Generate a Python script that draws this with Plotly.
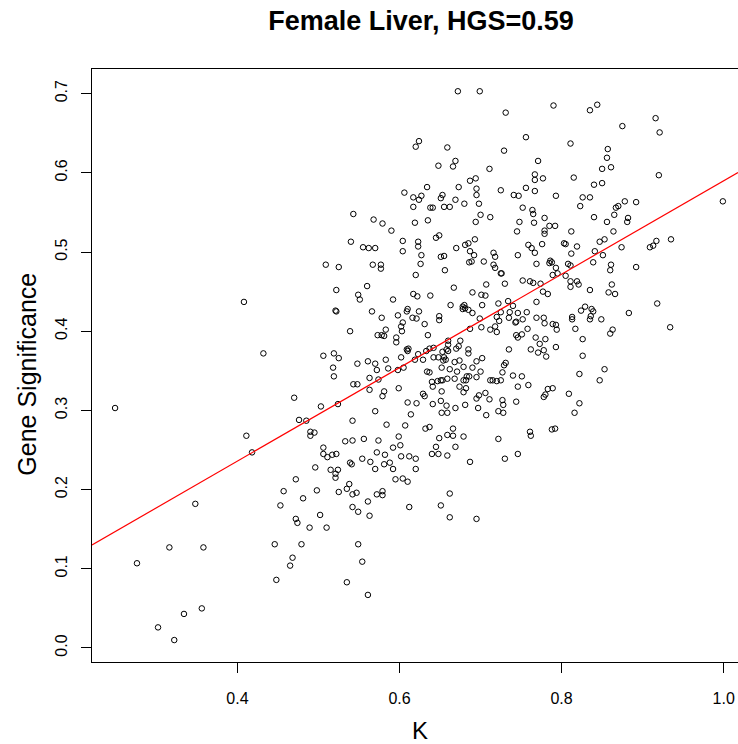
import plotly.graph_objects as go

title_text = "Female Liver, HGS=0.59"
x_label = "K"
y_label = "Gene Significance"
x_tick_values = [0.4, 0.6, 0.8, 1.0]
x_tick_labels = ["0.4", "0.6", "0.8", "1.0"]
y_tick_values = [0.0, 0.1, 0.2, 0.3, 0.4, 0.5, 0.6, 0.7]
y_tick_labels = ["0.0", "0.1", "0.2", "0.3", "0.4", "0.5", "0.6", "0.7"]
hgs_slope = 0.59

# (K, Gene Significance) pairs, grouped by region
pts_top_mid = [
    (0.672, 0.703), (0.699, 0.703), (0.790, 0.685), (0.731, 0.676), (0.624, 0.640), (0.620, 0.633),
    (0.659, 0.632), (0.756, 0.645), (0.729, 0.628), (0.771, 0.615), (0.669, 0.615), (0.648, 0.609),
    (0.666, 0.608), (0.711, 0.605), (0.767, 0.598), (0.767, 0.591), (0.777, 0.593), (0.694, 0.593),
    (0.687, 0.590), (0.634, 0.582), (0.673, 0.582), (0.695, 0.580), (0.756, 0.581), (0.725, 0.578),
    (0.767, 0.577), (0.606, 0.575), (0.695, 0.572), (0.653, 0.572), (0.651, 0.568), (0.627, 0.571),
    (0.617, 0.569), (0.624, 0.566), (0.741, 0.572), (0.747, 0.571), (0.793, 0.571), (0.669, 0.566),
    (0.680, 0.561), (0.698, 0.561), (0.617, 0.557), (0.638, 0.556), (0.641, 0.556), (0.655, 0.557),
    (0.662, 0.557), (0.752, 0.556), (0.764, 0.553), (0.765, 0.548), (0.700, 0.547), (0.712, 0.544),
    (0.779, 0.543), (0.635, 0.540), (0.694, 0.538), (0.748, 0.538), (0.766, 0.537), (0.619, 0.537),
    (0.579, 0.536), (0.785, 0.533), (0.792, 0.533), (0.590, 0.527), (0.745, 0.526), (0.779, 0.527),
    (0.779, 0.523), (0.649, 0.521), (0.645, 0.518), (0.604, 0.514), (0.623, 0.513), (0.693, 0.516),
    (0.685, 0.511), (0.681, 0.509), (0.776, 0.510), (0.759, 0.509), (0.670, 0.505), (0.623, 0.507),
    (0.763, 0.505),
]

pts_top_right = [
    (0.844, 0.686), (0.835, 0.679), (0.916, 0.669), (0.875, 0.659), (0.921, 0.651), (0.811, 0.637),
    (0.857, 0.630), (0.856, 0.619), (0.850, 0.605), (0.861, 0.607), (0.815, 0.594), (0.920, 0.597),
    (0.840, 0.585), (0.850, 0.587), (0.826, 0.569), (0.835, 0.569), (0.823, 0.558), (0.878, 0.564),
    (0.892, 0.563), (0.870, 0.558), (0.867, 0.556), (0.999, 0.564), (0.840, 0.544), (0.865, 0.547),
    (0.882, 0.543), (0.881, 0.538), (0.856, 0.538), (0.812, 0.526), (0.864, 0.526), (0.803, 0.511),
    (0.805, 0.510), (0.819, 0.507), (0.847, 0.513), (0.853, 0.516), (0.917, 0.514), (0.935, 0.516),
    (0.913, 0.508), (0.909, 0.506), (0.874, 0.506),
]

pts_center = [
    (0.604, 0.501), (0.627, 0.496), (0.651, 0.494), (0.655, 0.495), (0.687, 0.501), (0.692, 0.496),
    (0.716, 0.499), (0.718, 0.494), (0.746, 0.496), (0.767, 0.499), (0.769, 0.485), (0.786, 0.489),
    (0.788, 0.487), (0.785, 0.486), (0.577, 0.484), (0.577, 0.479), (0.626, 0.485), (0.656, 0.477),
    (0.686, 0.487), (0.689, 0.488), (0.704, 0.488), (0.716, 0.484), (0.718, 0.480), (0.725, 0.473),
    (0.726, 0.473), (0.793, 0.480), (0.789, 0.471), (0.795, 0.473), (0.620, 0.471), (0.730, 0.460),
    (0.752, 0.464), (0.761, 0.463), (0.765, 0.461), (0.774, 0.460), (0.707, 0.459), (0.667, 0.455),
    (0.617, 0.447), (0.622, 0.444), (0.638, 0.445), (0.690, 0.449), (0.701, 0.446), (0.706, 0.445),
    (0.777, 0.450), (0.783, 0.447), (0.592, 0.440), (0.663, 0.433), (0.678, 0.431), (0.680, 0.433),
    (0.681, 0.429), (0.685, 0.427), (0.678, 0.428), (0.702, 0.433), (0.722, 0.435), (0.734, 0.438),
    (0.740, 0.432), (0.769, 0.437), (0.610, 0.428), (0.609, 0.425), (0.624, 0.425), (0.598, 0.420),
    (0.616, 0.417), (0.621, 0.416), (0.649, 0.419), (0.649, 0.414), (0.690, 0.423), (0.725, 0.424),
    (0.736, 0.424), (0.746, 0.423), (0.757, 0.424), (0.720, 0.418), (0.735, 0.417), (0.699, 0.416),
    (0.752, 0.415), (0.769, 0.417), (0.778, 0.417), (0.578, 0.417), (0.604, 0.411), (0.631, 0.409),
    (0.723, 0.413), (0.744, 0.412), (0.743, 0.411), (0.779, 0.410), (0.789, 0.409), (0.602, 0.406),
    (0.718, 0.406), (0.701, 0.405), (0.687, 0.403), (0.712, 0.402), (0.758, 0.403), (0.794, 0.402),
    (0.583, 0.402), (0.603, 0.400), (0.720, 0.399), (0.793, 0.408), (0.578, 0.395), (0.581, 0.394),
    (0.596, 0.392), (0.596, 0.386), (0.635, 0.395), (0.660, 0.388), (0.675, 0.388), (0.744, 0.395),
    (0.746, 0.392), (0.751, 0.396), (0.768, 0.392), (0.773, 0.384), (0.780, 0.390), (0.793, 0.380),
    (0.660, 0.383), (0.670, 0.378), (0.673, 0.381), (0.658, 0.377), (0.609, 0.377), (0.610, 0.375),
    (0.611, 0.378), (0.637, 0.378), (0.642, 0.379), (0.633, 0.375), (0.653, 0.374), (0.660, 0.375),
    (0.685, 0.377), (0.735, 0.377), (0.762, 0.377), (0.778, 0.376), (0.771, 0.373), (0.781, 0.368),
    (0.623, 0.371), (0.602, 0.367), (0.619, 0.364), (0.629, 0.364), (0.642, 0.367), (0.648, 0.367),
    (0.655, 0.367), (0.685, 0.372), (0.702, 0.366), (0.583, 0.364), (0.654, 0.363), (0.657, 0.364),
    (0.668, 0.361), (0.674, 0.363), (0.695, 0.362), (0.731, 0.360), (0.586, 0.353), (0.598, 0.351),
    (0.605, 0.354), (0.652, 0.354), (0.679, 0.355), (0.690, 0.354), (0.729, 0.357), (0.634, 0.349),
    (0.637, 0.348), (0.662, 0.352), (0.671, 0.349), (0.700, 0.349), (0.727, 0.348), (0.668, 0.340),
    (0.683, 0.343), (0.686, 0.343), (0.695, 0.342), (0.740, 0.344), (0.751, 0.343), (0.640, 0.336),
    (0.647, 0.337), (0.651, 0.338), (0.653, 0.338), (0.659, 0.340), (0.679, 0.338), (0.682, 0.338),
    (0.712, 0.338), (0.715, 0.338), (0.720, 0.337), (0.725, 0.338), (0.581, 0.324), (0.579, 0.318),
    (0.599, 0.328), (0.641, 0.330), (0.674, 0.330), (0.682, 0.328), (0.679, 0.323), (0.746, 0.330),
    (0.759, 0.332), (0.783, 0.327), (0.789, 0.328), (0.780, 0.320), (0.778, 0.317), (0.629, 0.321),
    (0.631, 0.318), (0.652, 0.324), (0.698, 0.319), (0.695, 0.315), (0.706, 0.322), (0.711, 0.314),
    (0.727, 0.313), (0.728, 0.307), (0.610, 0.310), (0.621, 0.309), (0.641, 0.308), (0.651, 0.312),
    (0.658, 0.306), (0.669, 0.303), (0.681, 0.307), (0.697, 0.303), (0.744, 0.311), (0.722, 0.299),
    (0.728, 0.297), (0.652, 0.297), (0.659, 0.297), (0.614, 0.295), (0.707, 0.294), (0.584, 0.282),
    (0.607, 0.281), (0.632, 0.277), (0.637, 0.279), (0.666, 0.277), (0.788, 0.276), (0.792, 0.277),
]

pts_right = [
    (0.812, 0.498), (0.841, 0.501), (0.851, 0.496), (0.808, 0.485), (0.811, 0.483), (0.839, 0.487),
    (0.861, 0.484), (0.860, 0.477), (0.892, 0.481), (0.805, 0.470), (0.811, 0.463), (0.819, 0.463),
    (0.821, 0.459), (0.811, 0.456), (0.862, 0.459), (0.835, 0.452), (0.858, 0.449), (0.866, 0.447),
    (0.918, 0.435), (0.829, 0.431), (0.824, 0.426), (0.837, 0.428), (0.839, 0.425), (0.883, 0.423),
    (0.813, 0.418), (0.813, 0.415), (0.836, 0.419), (0.835, 0.415), (0.849, 0.415), (0.934, 0.405),
    (0.817, 0.403), (0.863, 0.402), (0.860, 0.397), (0.826, 0.390), (0.826, 0.369), (0.853, 0.352),
    (0.822, 0.346), (0.847, 0.338), (0.809, 0.321), (0.822, 0.309), (0.816, 0.297),
]

pts_lower_mid = [
    (0.599, 0.267), (0.592, 0.253), (0.601, 0.256), (0.582, 0.244), (0.602, 0.242), (0.612, 0.242),
    (0.620, 0.239), (0.581, 0.232), (0.588, 0.234), (0.592, 0.226), (0.620, 0.226), (0.595, 0.213),
    (0.604, 0.214), (0.610, 0.210), (0.579, 0.198), (0.579, 0.193), (0.612, 0.178), (0.649, 0.265),
    (0.659, 0.269), (0.666, 0.268), (0.679, 0.267), (0.645, 0.254), (0.640, 0.245), (0.648, 0.245),
    (0.659, 0.243), (0.669, 0.254), (0.687, 0.235), (0.662, 0.195), (0.651, 0.180), (0.662, 0.165),
    (0.695, 0.163), (0.722, 0.264), (0.730, 0.239), (0.746, 0.245), (0.761, 0.273), (0.762, 0.268),
]

pts_upper_left = [
    (0.543, 0.548), (0.568, 0.541), (0.540, 0.513), (0.555, 0.506), (0.562, 0.505), (0.570, 0.505),
    (0.509, 0.484), (0.525, 0.481), (0.567, 0.484), (0.408, 0.437), (0.522, 0.452), (0.560, 0.457),
    (0.549, 0.446), (0.551, 0.440), (0.521, 0.426), (0.522, 0.425), (0.566, 0.425), (0.539, 0.400),
    (0.573, 0.395), (0.432, 0.372), (0.506, 0.369), (0.519, 0.372), (0.525, 0.366), (0.548, 0.359),
    (0.561, 0.362), (0.570, 0.359), (0.572, 0.351), (0.518, 0.354), (0.519, 0.343), (0.563, 0.341),
    (0.543, 0.333), (0.548, 0.333), (0.563, 0.326), (0.574, 0.339), (0.470, 0.316), (0.503, 0.305),
    (0.524, 0.308), (0.570, 0.299), (0.476, 0.288), (0.485, 0.287), (0.542, 0.287),
]

pts_lower_left = [
    (0.411, 0.268), (0.418, 0.247), (0.490, 0.273), (0.495, 0.272), (0.490, 0.268), (0.533, 0.261),
    (0.542, 0.262), (0.556, 0.264), (0.574, 0.262), (0.506, 0.253), (0.506, 0.245), (0.511, 0.241),
    (0.517, 0.244), (0.522, 0.245), (0.572, 0.247), (0.554, 0.239), (0.539, 0.234), (0.541, 0.232),
    (0.564, 0.235), (0.570, 0.226), (0.496, 0.228), (0.515, 0.225), (0.524, 0.225), (0.521, 0.220),
    (0.521, 0.215), (0.472, 0.213), (0.538, 0.207), (0.535, 0.201), (0.525, 0.197), (0.542, 0.194),
    (0.547, 0.196), (0.572, 0.194), (0.457, 0.198), (0.498, 0.199), (0.481, 0.189), (0.561, 0.185),
    (0.453, 0.180), (0.542, 0.178), (0.549, 0.172), (0.563, 0.167), (0.502, 0.168), (0.472, 0.163),
    (0.474, 0.158), (0.489, 0.152), (0.510, 0.152), (0.358, 0.127), (0.446, 0.131), (0.479, 0.131),
    (0.549, 0.131), (0.468, 0.114), (0.465, 0.104), (0.554, 0.109), (0.448, 0.086), (0.535, 0.083),
    (0.561, 0.067), (0.356, 0.050),
]

pts_far_left = [
    (0.249, 0.303), (0.348, 0.182), (0.316, 0.127), (0.276, 0.107), (0.334, 0.043), (0.302, 0.026),
    (0.322, 0.010),
]

all_groups = [pts_top_mid, pts_top_right, pts_center, pts_right,
              pts_lower_mid, pts_upper_left, pts_lower_left, pts_far_left]
k_values = [p[0] for g in all_groups for p in g]
gs_values = [p[1] for g in all_groups for p in g]

x_range = [0.2205, 1.0177]
y_range = [-0.0177, 0.7311]

fig = go.Figure()
fig.add_trace(go.Scatter(
    x=k_values, y=gs_values, mode="markers",
    marker=dict(symbol="circle-open", size=5.5, color="black",
                line=dict(width=1, color="black")),
    showlegend=False, hoverinfo="skip",
))
fig.add_trace(go.Scatter(
    x=x_range, y=[hgs_slope * v for v in x_range], mode="lines",
    line=dict(color="red", width=1.2), showlegend=False, hoverinfo="skip",
))

font_family = "Liberation Sans, Arial, Helvetica, sans-serif"
axis_common = dict(
    showgrid=False, zeroline=False, showline=True, linecolor="black", linewidth=1,
    ticks="outside", ticklen=10, tickwidth=1, tickcolor="black",
    tickfont=dict(family=font_family, size=16, color="black"),
)
fig.update_xaxes(range=x_range, tickvals=x_tick_values, ticktext=x_tick_labels,
                 mirror=True, ticklabelstandoff=12, **axis_common)
fig.update_yaxes(range=y_range, tickvals=y_tick_values, ticktext=y_tick_labels,
                 tickangle=-90, ticklabelstandoff=8, **axis_common)

fig.update_layout(
    width=738, height=744,
    margin=dict(l=92, r=0, t=69, b=82),
    paper_bgcolor="white", plot_bgcolor="white",
    title=dict(text="<b>" + title_text + "</b>", x=421 / 738, xref="container",
               xanchor="center", y=1 - 21 / 744, yref="container", yanchor="middle",
               font=dict(family=font_family, size=27, color="black")),
    annotations=[
        dict(text=x_label, xref="paper", yref="paper", x=(420 - 92) / 646, y=(662.3 - 731) / 593,
             xanchor="center", yanchor="middle", showarrow=False,
             font=dict(family=font_family, size=24, color="black")),
        dict(text=y_label, xref="paper", yref="paper", x=(27 - 92) / 646, y=(662.3 - 375) / 593,
             xanchor="center", yanchor="middle", showarrow=False, textangle=-90,
             font=dict(family=font_family, size=25, color="black")),
    ],
)

fig.write_html(
    "out.html",
    config={"displayModeBar": False, "staticPlot": True},
    post_script="document.body.style.margin='0';document.body.style.overflow='hidden';",
)
